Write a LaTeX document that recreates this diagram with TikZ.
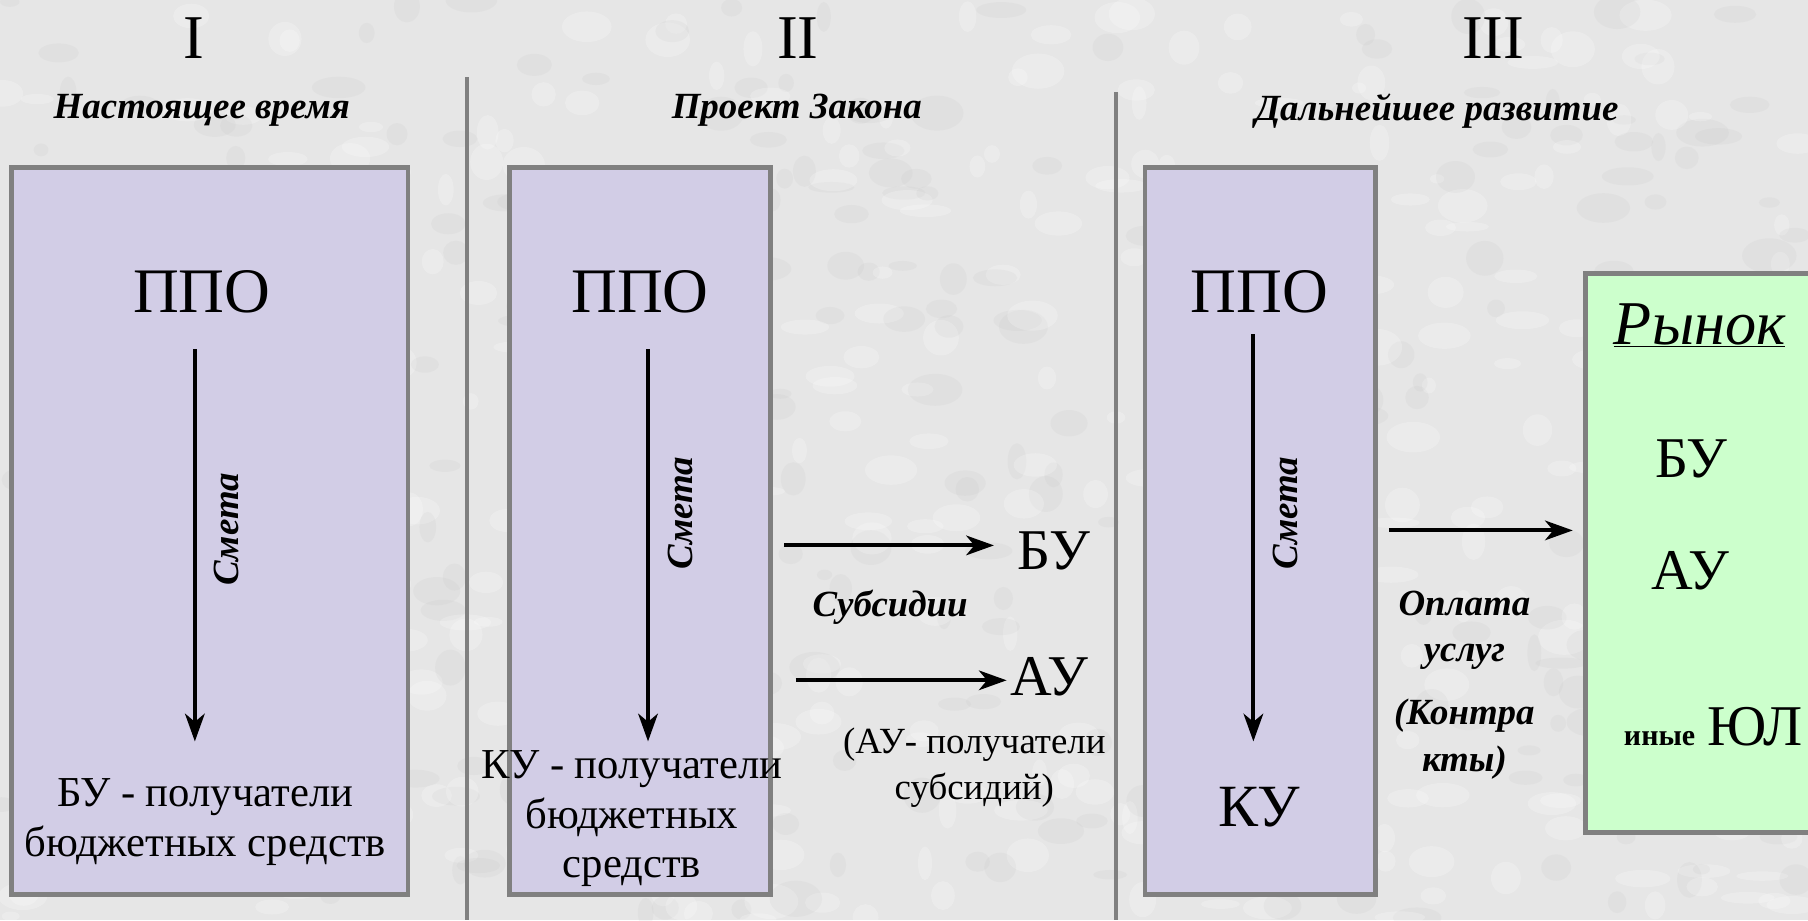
\documentclass[tikz,border=0pt]{standalone}
\usepackage{fontspec}
\setmainfont{Liberation Serif}
\usetikzlibrary{arrows.meta}
\definecolor{bg}{RGB}{230,230,230}
\definecolor{lav}{RGB}{210,205,230}
\definecolor{mint}{RGB}{204,255,204}
\definecolor{frame}{RGB}{128,128,128}
\tikzset{
  panel/.style={draw=frame, line width=4pt, fill=lav},
  greenpanel/.style={draw=frame, line width=4pt, fill=mint},
  sepline/.style={draw=frame, line width=4pt},
  arr/.style={line width=3.5pt, -{Stealth[length=24pt,width=17pt,inset=7pt]}},
  roman/.style={font=\fontsize{54}{60}\selectfont, inner sep=0pt},
  head/.style={font=\fontsize{32}{36}\selectfont\bfseries\itshape, inner sep=0pt},
  ppo/.style={font=\fontsize{55}{60}\selectfont, inner sep=0pt},
  smeta/.style={font=\fontsize{32}{36}\selectfont\bfseries\itshape, rotate=90, inner sep=0pt},
  lbl/.style={font=\fontsize{37}{43}\selectfont, align=center, inner sep=0pt},
  lblsm/.style={font=\fontsize{32}{40}\selectfont, align=center, inner sep=0pt},
  big/.style={font=\fontsize{50}{56}\selectfont, inner sep=0pt},
  itlbl/.style={font=\fontsize{32}{40}\selectfont\bfseries\itshape, align=center, inner sep=0pt},
}
\begin{document}
\begin{tikzpicture}[x=1pt, y=-1pt]
\useasboundingbox (0,0) rectangle (1568,798);
\fill[bg] (0,0) rectangle (1568,798);
% mottled background
\pgfmathsetseed{11}
\foreach \i in {1,...,700}{
  \pgfmathsetmacro\xx{rnd*1568}
  \pgfmathsetmacro\yy{rnd*798}
  \pgfmathsetmacro\ra{6+rnd*18}
  \pgfmathsetmacro\rb{4+rnd*12}
  \pgfmathsetmacro\cc{rnd}
  \ifdim\cc pt<0.55pt
    \fill[white, opacity=0.22] (\xx,\yy) ellipse [x radius=\ra pt, y radius=\rb pt];
  \else
    \fill[black!30, opacity=0.10] (\xx,\yy) ellipse [x radius=\ra pt, y radius=\rb pt];
  \fi
}

% column headers
\node[roman] (r1) at (168,33) {I};
\node[roman] (r2) at (692,33) {II};
\node[roman] (r3) at (1295,33) {III};
\node[head] (h1) at (175,96) {Настоящее время};
\node[head] (h2) at (691,96) {Проект Закона};
\node[head] (h3) at (1246,96) {Дальнейшее развитие};

% separators
\coordinate (s1t) at (405,67);  \coordinate (s1b) at (405,798);
\coordinate (s2t) at (968,80);  \coordinate (s2b) at (968,798);
\draw[sepline] (s1t) -- (s1b);
\draw[sepline] (s2t) -- (s2b);

% panels
\draw[panel] (10,145) rectangle (354,776);
\draw[panel] (442,145) rectangle (668,776);
\draw[panel] (993,145) rectangle (1193,776);
\draw[greenpanel] (1375,237) rectangle (1590,722);

% column I
\node[ppo] (p1) at (175,253) {ППО};
\coordinate (a1s) at (169,303);
\coordinate (a1e) at (169,643);
\draw[arr] (a1s) -- (a1e);
\node[smeta] (m1) at (196,459) {Смета};
\node[lbl] (k1) at (178,713) {БУ - получатели\\бюджетных средств};

% column II
\node[ppo] (p2) at (555,253) {ППО};
\coordinate (a2s) at (562,303);
\coordinate (a2e) at (562,643);
\draw[arr] (a2s) -- (a2e);
\node[smeta] (m2) at (590,445) {Смета};
\node[lbl] (k2) at (548,710) {КУ - получатели\\бюджетных\\средств};
\node[big] (bu2) at (914,478) {БУ};
\node[big] (au2) at (910,587) {АУ};
\coordinate (b2s) at (680,473);
\coordinate (b2e) at (862,473);
\coordinate (u2s) at (690,590);
\coordinate (u2e) at (873,590);
\draw[arr] (b2s) -- (b2e);
\draw[arr] (u2s) -- (u2e);
\node[itlbl] (sub) at (772,527) {Субсидии};
\node[lblsm] (aun) at (845,666) {(АУ- получатели\\субсидий)};

% column III
\node[ppo] (p3) at (1092,253) {ППО};
\coordinate (a3s) at (1087,290);
\coordinate (a3e) at (1087,643);
\draw[arr] (a3s) -- (a3e);
\node[smeta] (m3) at (1115,445) {Смета};
\node[big, font=\fontsize{52}{56}\selectfont] (ku3) at (1092,700) {КУ};
\coordinate (o3s) at (1205,460);
\coordinate (o3e) at (1364,460);
\draw[arr] (o3s) -- (o3e);
\node[itlbl] (opl) at (1270,594) {Оплата\\услуг\\[15pt](Контра\\кты)};

% market
\node[ppo, font=\fontsize{54}{60}\selectfont\itshape] (mkt) at (1474,282) {\underline{Рынок}};
\node[big] (bu3) at (1467,398) {БУ};
\node[big] (au3) at (1466,495) {АУ};
\node[big] (yul) at (1522,630) {ЮЛ};
\node[font=\fontsize{26}{30}\selectfont\bfseries, inner sep=0pt, anchor=base east] (iny) at ([xshift=-10pt]yul.base west) {иные};
\end{tikzpicture}
\end{document}
